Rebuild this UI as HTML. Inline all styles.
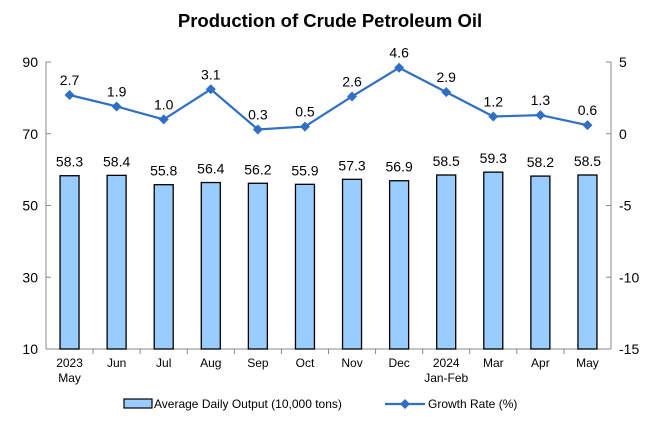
<!DOCTYPE html>
<html><head><meta charset="utf-8"><style>
body{margin:0;background:#fff;}
svg text{font-family:"Liberation Sans",Arial,sans-serif;}
</style></head><body>
<svg width="660" height="440" viewBox="0 0 660 440" id="c">
<text x="330" y="27" text-anchor="middle" font-size="18.5" font-weight="bold">Production of Crude Petroleum Oil</text>
<g id="g"></g>
</svg>
<script>
const categories=["2023|May","Jun","Jul","Aug","Sep","Oct","Nov","Dec","2024|Jan-Feb","Mar","Apr","May"];
const outputValues=[58.3,58.4,55.8,56.4,56.2,55.9,57.3,56.9,58.5,59.3,58.2,58.5];
const growthValues=[2.7,1.9,1.0,3.1,0.3,0.5,2.6,4.6,2.9,1.2,1.3,0.6];
const leftTicks=[10,30,50,70,90];
const rightTicks=[-15,-10,-5,0,5];
const NS="http://www.w3.org/2000/svg";
const g=document.getElementById('g');
const X0=46,X1=611,YT=62,YB=349;
const step=(X1-X0)/categories.length;
const xc=i=>X0+step*(i+0.5);
const yl=v=>YB-(v-10)/(90-10)*(YB-YT);
const yr=v=>YB-(v+15)/(5+15)*(YB-YT);
function mk(t,a,txt){const e=document.createElementNS(NS,t);for(const k in a)e.setAttribute(k,a[k]);if(txt!==undefined)e.textContent=txt;g.appendChild(e);return e;}
let e=mk('line',{x1:X0,y1:YT,x2:X0,y2:YB,stroke:'#888'});


e=mk('line',{x1:X1,y1:YT,x2:X1,y2:YB,stroke:'#888'});


e=mk('line',{x1:X0,y1:YB,x2:X1,y2:YB,stroke:'#888'});


leftTicks.forEach(v=>{
 mk('line',{x1:X0,y1:yl(v),x2:X0+5,y2:yl(v),stroke:'#888'});
 e=mk('text',{x:X0-8,y:yl(v)+5,'text-anchor':'end','font-size':14},v);
 
 
});
rightTicks.forEach(v=>{
 mk('line',{x1:X1-5,y1:yr(v),x2:X1,y2:yr(v),stroke:'#888'});
 e=mk('text',{x:X1+8,y:yr(v)+5,'font-size':14},v);
 
 
});
categories.forEach((c,i)=>{
 if(i>0)mk('line',{x1:X0+step*i,y1:YB,x2:X0+step*i,y2:YB+5,stroke:'#888'});
 const p=c.split('|');
 p.forEach((s,j)=>{
  e=mk('text',{x:xc(i),y:YB+18+j*15,'text-anchor':'middle','font-size':12},s);
  
  
 });
});
outputValues.forEach((v,i)=>{
 e=mk('rect',{x:xc(i)-9.5,y:yl(v),width:19,height:YB-yl(v),fill:'#99ccff',stroke:'#000','stroke-width':1.3});
 
 
 e=mk('text',{x:xc(i),y:yl(v)-9,'text-anchor':'middle','font-size':14},v.toFixed(1));
 
 
});
e=mk('polyline',{points:growthValues.map((v,i)=>xc(i)+','+yr(v)).join(' '),fill:'none',stroke:'#2f6fc4','stroke-width':2.2});


growthValues.forEach((v,i)=>{
 const x=xc(i),y=yr(v);
 e=mk('polygon',{points:`${x},${y-5} ${x+5},${y} ${x},${y+5} ${x-5},${y}`,fill:'#2f6fc4'});
 
 
 e=mk('text',{x:x,y:y-10,'text-anchor':'middle','font-size':14},v.toFixed(1));
 
 
});
e=mk('rect',{x:124,y:399,width:28,height:9,fill:'#99ccff',stroke:'#000','stroke-width':1.2});


e=mk('text',{x:154,y:408,'font-size':12},'Average Daily Output (10,000 tons)');


e=mk('line',{x1:385,y1:404,x2:425,y2:404,stroke:'#2f6fc4','stroke-width':2.2});


mk('polygon',{points:'405,399 410,404 405,409 400,404',fill:'#2f6fc4'});
e=mk('text',{x:428,y:408,'font-size':12},'Growth Rate (%)');


</script>
</body></html>
